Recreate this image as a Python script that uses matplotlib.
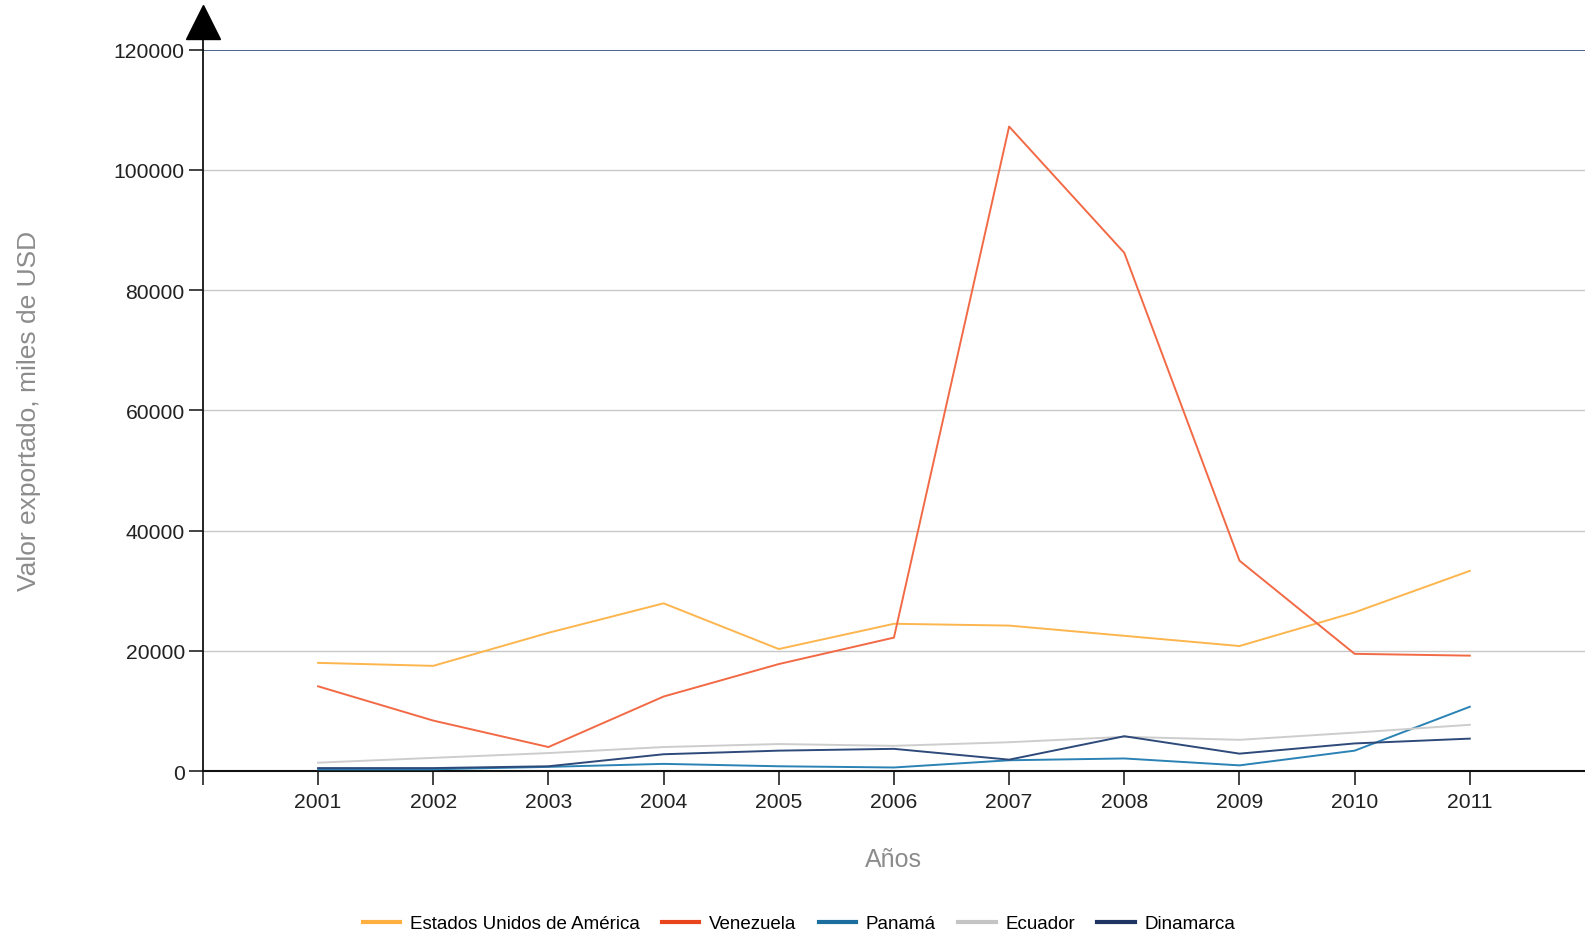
import matplotlib
matplotlib.use("Agg")
import matplotlib.pyplot as plt
from matplotlib.lines import Line2D

plt.rcParams['font.family'] = ['Liberation Sans', 'DejaVu Sans']

years = [2001, 2002, 2003, 2004, 2005, 2006, 2007, 2008, 2009, 2010, 2011]
usa = [18000, 17500, 23000, 27900, 20300, 24500, 24200, 22500, 20800, 26400, 33300]
venezuela = [14100, 8400, 4000, 12400, 17800, 22200, 107200, 86200, 35000, 19500, 19200]
panama = [300, 300, 700, 1200, 800, 600, 1800, 2100, 950, 3400, 10700]
ecuador = [1400, 2200, 3000, 4000, 4500, 4200, 4800, 5700, 5200, 6400, 7700]
dinamarca = [500, 500, 800, 2800, 3400, 3700, 1900, 5800, 2900, 4600, 5400]

series_names = ["Estados Unidos de América", "Venezuela", "Panamá", "Ecuador", "Dinamarca"]
series_values = [usa, venezuela, panama, ecuador, dinamarca]
line_colors = ["#FDB54E", "#F26A45", "#2B82B4", "#CDCDCD", "#2E4A7A"]
legend_colors = ["#FDB03F", "#E8451C", "#1B6E9E", "#C4C4C4", "#1E3563"]
y_ticks = [0, 20000, 40000, 60000, 80000, 100000, 120000]

fig = plt.figure(figsize=(15.85, 9.37), dpi=100)
ax = fig.add_axes([0.128, 0.176, 0.872, 0.770])

for v in y_ticks[1:-1]:
    ax.axhline(v, color="#C8C8C8", lw=1.0, zorder=1)
ax.axhline(y_ticks[-1], color="#3D5684", lw=1.3, zorder=1)

for name, vals, c in zip(series_names, series_values, line_colors):
    ax.plot(years, vals, color=c, lw=1.4, zorder=3)

ax.set_xlim(2000, 2012)
ax.set_ylim(0, 120000)
ax.set_yticks(y_ticks)
ax.set_yticklabels([str(v) for v in y_ticks], fontsize=15.2, color="#222222")
ax.set_xticks([2000] + years)
ax.set_xticklabels([""] + [str(y) for y in years], fontsize=15.2, color="#222222")
ax.tick_params(axis='y', length=10, width=1.2, color="#222222", pad=3)
ax.tick_params(axis='x', length=10, width=1.2, color="#222222", pad=5)

for s in ["top", "right"]:
    ax.spines[s].set_visible(False)
ax.spines["left"].set_color("#111111")
ax.spines["left"].set_linewidth(1.3)
ax.spines["bottom"].set_color("#111111")
ax.spines["bottom"].set_linewidth(1.5)

# arrow on top of y-axis
ax.plot([0, 0], [1.0, 1.03], transform=ax.transAxes, color="#111111", lw=1.3, clip_on=False)
ax.plot([0], [1.038], transform=ax.transAxes, marker="^", ms=25, color="black", clip_on=False)

ax.set_ylabel("Valor exportado, miles de USD", fontsize=19, color="#8C8C8C", labelpad=52)
ax.set_xlabel("Años", fontsize=18, color="#8C8C8C", labelpad=26)

handles = [Line2D([], [], color=c, lw=3) for c in legend_colors]
fig.legend(handles, series_names, loc="center", bbox_to_anchor=(0.504, 0.013), ncol=5,
           frameon=False, fontsize=13.5, handlelength=2.0, handletextpad=0.5, columnspacing=1.2)

fig.savefig("out.png", dpi=100)
